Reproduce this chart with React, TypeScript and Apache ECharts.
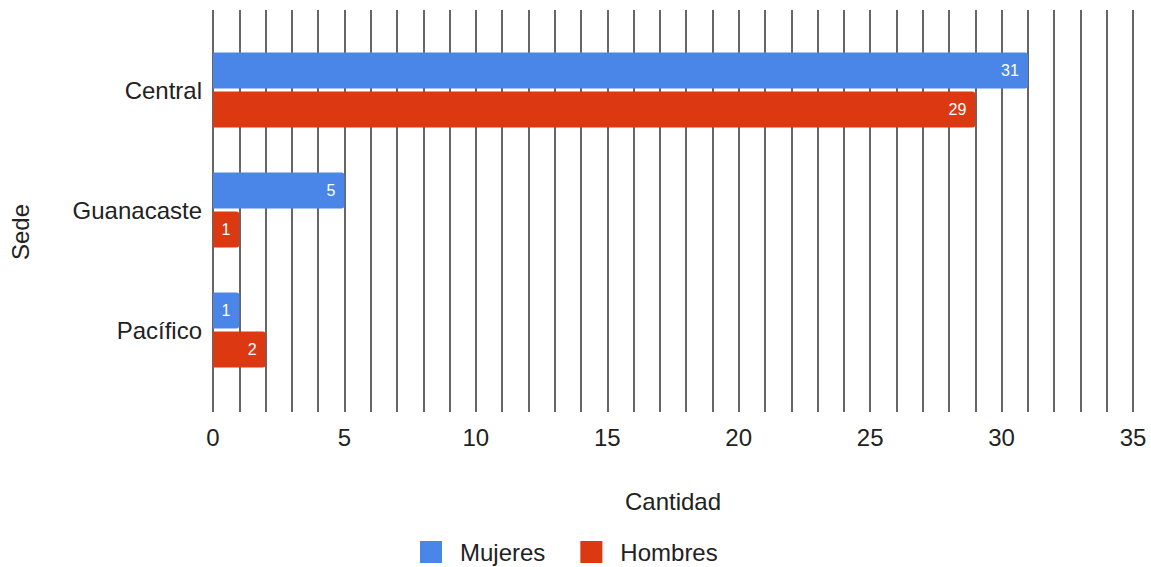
import React, { useEffect, useRef } from "react";
import * as echarts from "echarts";

const categories = ["Central", "Guanacaste", "Pacífico"];
const mujeres = [31, 5, 1];
const hombres = [29, 1, 2];
const seriesNames = ["Mujeres", "Hombres"];
const xMin = 0;
const xMax = 35;
const labelStep = 5;

export default function App() {
  const ref = useRef<HTMLDivElement>(null);
  useEffect(() => {
    if (!ref.current) return;
    const chart = echarts.init(ref.current, null, { renderer: "svg" });
    const font = "Arial, 'Liberation Sans', sans-serif";
    const textColor = "#222222";
    chart.setOption({
      animation: false,
      textStyle: { fontFamily: font },
      grid: [
        { left: 213, right: 18, top: 10, bottom: 155 },
        { left: 213, right: 18, top: 30, height: 360 },
      ],
      xAxis: [
        {
          gridIndex: 0,
          type: "value",
          min: xMin,
          max: xMax,
          interval: 1,
          axisLine: { show: false },
          axisTick: { show: false },
          splitLine: { show: true, lineStyle: { color: "#333333", width: 1.5 } },
          axisLabel: {
            margin: 13,
            fontSize: 24,
            color: textColor,
            fontFamily: font,
            hideOverlap: false,
            formatter: (v: number) => (v % labelStep === 0 ? String(v) : ""),
          },
          name: "Cantidad",
          nameLocation: "middle",
          nameGap: 77,
          nameTextStyle: { fontSize: 24, color: textColor, fontFamily: font },
        },
        { gridIndex: 1, type: "value", min: xMin, max: xMax, show: false },
      ],
      yAxis: [
        { gridIndex: 0, type: "value", show: false, splitLine: { show: false } },
        {
          gridIndex: 1,
          type: "category",
          inverse: true,
          data: categories,
          axisLine: { show: false },
          axisTick: { show: false },
          axisLabel: { fontSize: 24, color: textColor, margin: 11, fontFamily: font },
        },
      ],
      legend: {
        top: 539,
        left: 420,
        padding: 0,
        itemWidth: 22,
        itemHeight: 22,
        itemGap: 35,
        icon: "rect",
        textStyle: { fontSize: 24, lineHeight: 26, color: textColor, fontFamily: font, padding: [0, 0, 0, 13] },
        data: seriesNames,
      },
      graphic: [
        {
          type: "text",
          x: 20,
          y: 232,
          rotation: Math.PI / 2,
          style: {
            text: "Sede",
            fontSize: 24,
            fill: textColor,
            fontFamily: font,
            align: "center",
            verticalAlign: "middle",
          },
        },
      ],
      series: [
        {
          name: seriesNames[0],
          type: "bar",
          xAxisIndex: 1,
          yAxisIndex: 1,
          data: mujeres,
          barWidth: 36,
          barGap: "8%",
          itemStyle: { color: "#4a86e8", borderRadius: [0, 3, 3, 0] },
          label: { show: true, position: "insideRight", distance: 9, color: "#ffffff", fontSize: 16, fontFamily: font },
        },
        {
          name: seriesNames[1],
          type: "bar",
          xAxisIndex: 1,
          yAxisIndex: 1,
          data: hombres,
          barWidth: 36,
          barGap: "8%",
          itemStyle: { color: "#dc3912", borderRadius: [0, 3, 3, 0] },
          label: { show: true, position: "insideRight", distance: 9, color: "#ffffff", fontSize: 16, fontFamily: font },
        },
      ],
    });
    return () => chart.dispose();
  }, []);
  return (
    <div
      ref={ref}
      style={{ position: "absolute", left: 0, top: 0, width: 1151, height: 567, background: "#ffffff" }}
    />
  );
}
